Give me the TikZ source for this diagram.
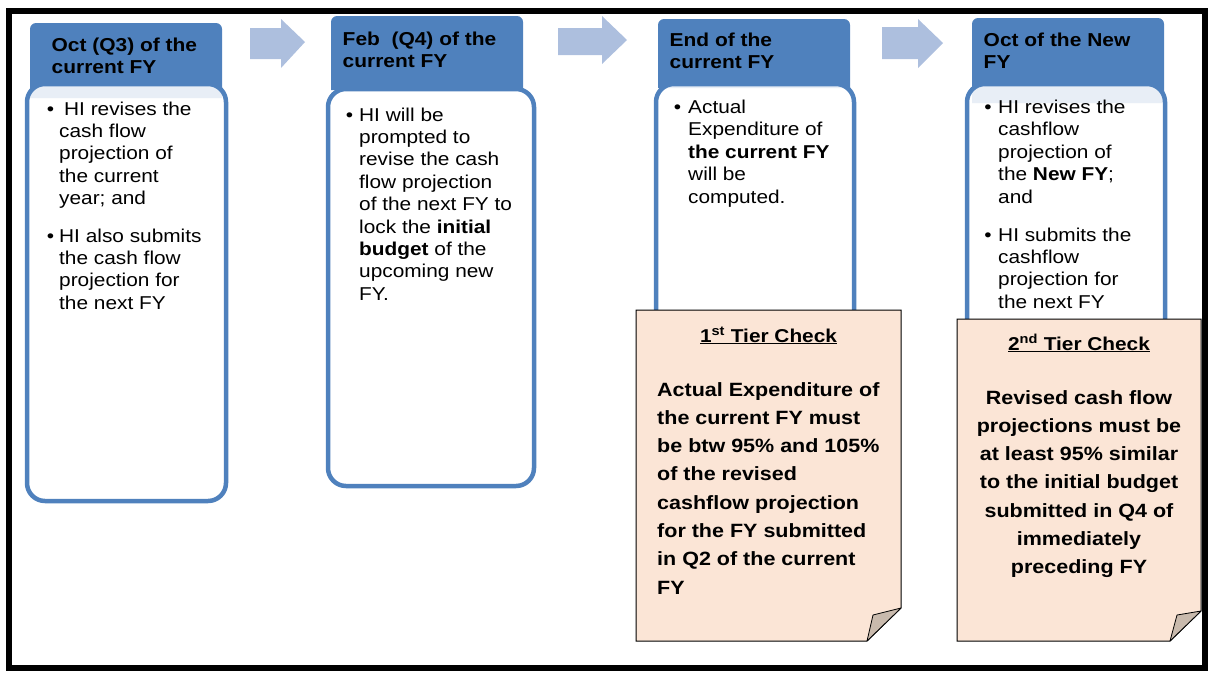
\documentclass[tikz,border=0pt]{standalone}
\usepackage{fontspec}
\setmainfont{Liberation Sans}[FakeStretch=1.12]
\definecolor{hdrblue}{HTML}{4F81BD}
\definecolor{boxblue}{HTML}{4F81BD}
\definecolor{arrowblue}{HTML}{ADBFDE}
\definecolor{notefill}{HTML}{FBE5D6}
\definecolor{foldfill}{HTML}{C9BAAD}
\newcommand\lns[2][l]{\begin{tabular}[t]{@{}#1@{}}#2\end{tabular}}
\tikzset{
  hdr/.style={fill=hdrblue},
  bodybox/.style={draw=boxblue, line width=4.5pt, fill=white, fill opacity=0.87, rounded corners=18pt},
  blockarrow/.style={fill=arrowblue},
  notebox/.style={draw=black, line width=1pt, fill=notefill},
  fold/.style={draw=black, line width=0.8pt, fill=foldfill, line join=round},
  hdrtext/.style={anchor=base west, inner sep=0pt, font=\bfseries\fontsize{18.7}{22}\selectfont},
  bodytext/.style={anchor=base west, inner sep=0pt, font=\fontsize{18.6}{22.4}\selectfont},
  bul/.style={anchor=base, inner sep=0pt, font=\fontsize{18.6}{22.4}\selectfont},
  notetitle/.style={anchor=base, inner sep=0pt, font=\bfseries\fontsize{18.6}{22}\selectfont},
  notetext/.style={inner sep=0pt, font=\bfseries\fontsize{19.2}{28.3}\selectfont},
}
\begin{document}
\begin{tikzpicture}[x=1pt,y=-1pt]
\useasboundingbox (0,0) rectangle (1214,673);
% outer frame
\draw[line width=6pt] (9,11) rectangle (1205,668);

% block arrows
\fill[blockarrow] (250,28) -- (281,28) -- (281,19) -- (305,42) -- (281,68) -- (281,59) -- (250,59) -- cycle;
\fill[blockarrow] (558,28) -- (602,28) -- (602,16) -- (627,40) -- (602,64) -- (602,55) -- (558,55) -- cycle;
\fill[blockarrow] (882,27) -- (918,27) -- (918,19) -- (943,43) -- (918,68) -- (918,59) -- (882,59) -- cycle;

% column 1
\fill[hdr] (30,98) [rounded corners=6pt] -- (30,23) -- (222,23) [sharp corners] -- (222,98) -- cycle;
\node[hdrtext] (h1) at (51.5,51) {\lns{Oct (Q3) of the\\current FY}};
\draw[bodybox] (27,84) rectangle (226,501);
\node[bul] (b1a) at (50.5,115) {•};
\node[bodytext] (t1a) at (59,115) {\lns{\hspace*{5pt}HI revises the\\cash flow\\projection of\\the current\\year; and}};
\node[bul] (b1b) at (50.5,242) {•};
\node[bodytext] (t1b) at (59,242) {\lns{HI also submits\\the cash flow\\projection for\\the next FY}};

% column 2
\fill[hdr] (331,90) [rounded corners=6pt] -- (331,16) -- (523,16) [sharp corners] -- (523,90) -- cycle;
\node[hdrtext] (h2) at (342.5,45) {\lns{Feb\ \ (Q4) of the\\current FY}};
\draw[bodybox] (328,89) rectangle (534,486);
\node[bul] (b2) at (349.5,121) {•};
\node[bodytext] (t2) at (359,121) {\lns{HI will be\\prompted to\\revise the cash\\flow projection\\of the next FY to\\lock the \textbf{initial}\\\textbf{budget} of the\\upcoming new\\FY.}};

% column 3
\fill[hdr] (658,88) [rounded corners=6pt] -- (658,19) -- (850,19) [sharp corners] -- (850,88) -- cycle;
\node[hdrtext] (h3) at (669.5,46.7) {\lns{End of the\\current FY}};
\draw[bodybox] (656,84) rectangle (854,430);
\node[bul] (b3) at (677.5,113.5) {•};
\node[bodytext] (t3) at (688,113.5) {\lns{Actual\\Expenditure of\\\textbf{the current FY}\\will be\\computed.}};

% column 4
\fill[hdr] (972,103) [rounded corners=6pt] -- (972,18) -- (1164,18) [sharp corners] -- (1164,103) -- cycle;
\node[hdrtext] (h4) at (983.5,46.7) {\lns{Oct of the New\\FY}};
\draw[bodybox] (967,84) rectangle (1165,430);
\node[bul] (b4a) at (988,113.5) {•};
\node[bodytext] (t4a) at (998,113.5) {\lns{HI revises the\\cashflow\\projection of\\the \textbf{New FY};\\and}};
\node[bul] (b4b) at (988,241) {•};
\node[bodytext] (t4b) at (998,241) {\lns{HI submits the\\cashflow\\projection for\\the next FY}};

% note 1
\draw[notebox] (636,310) -- (901,310) -- (901,608) -- (867,641) -- (636,641) -- cycle;
\draw[fold] (867,641) -- (873,615) -- (901,608) -- cycle;
\node[notetitle] (n1t) at (768.5,342) {\underline{1\textsuperscript{st} Tier Check}};
\node[notetext, anchor=base west] (n1b) at (657,396) {\lns{Actual Expenditure of\\the current FY must\\be btw 95\% and 105\%\\of the revised\\cashflow projection\\for the FY submitted\\in Q2 of the current\\FY}};

% note 2
\draw[notebox] (957,319) -- (1201,319) -- (1201,611) -- (1170,641) -- (957,641) -- cycle;
\draw[fold] (1170,641) -- (1177,615) -- (1201,611) -- cycle;
\node[notetitle] (n2t) at (1079,350) {\underline{2\textsuperscript{nd} Tier Check}};
\node[notetext, anchor=base] (n2b) at (1079,404) {\lns[c]{Revised cash flow\\projections must be\\at least 95\% similar\\to the initial budget\\submitted in Q4 of\\immediately\\preceding FY}};
\end{tikzpicture}
\end{document}
